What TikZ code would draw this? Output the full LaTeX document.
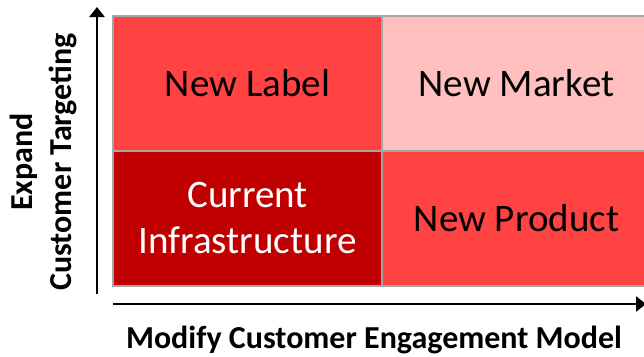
\documentclass[tikz,border=0pt]{standalone}
\usepackage{fontspec}
\setmainfont{Carlito}
\usepackage{tikz}
\usetikzlibrary{arrows.meta,positioning}
\definecolor{cRed}{HTML}{FF4343}
\definecolor{cPink}{HTML}{FFBFBF}
\definecolor{cDark}{HTML}{C00000}
\definecolor{cGrid}{HTML}{A6A6A6}
\tikzset{
  cell/.style={rectangle, draw=cGrid, line width=2pt, minimum width=269pt, minimum height=135pt, inner sep=0pt, align=center, font=\fontsize{39}{46}\selectfont},
  axis/.style={-{Triangle[length=10pt, width=15pt]}, line width=2.4pt, black},
  axlabel/.style={font=\fontsize{32}{39}\selectfont\bfseries, align=center, inner sep=0pt},
}

\begin{document}
\begin{tikzpicture}[x=1pt, y=-1pt]
  \useasboundingbox (0,0) rectangle (644,356);
  % the four quadrants
  \node[cell, fill=cRed]              (label)   at (247.5, 83.5) {New Label};
  \node[cell, fill=cPink]             (market)  at (516.5, 83.5) {New Market};
  \node[cell, fill=cDark, text=white] (infra)   at (247.5, 218)  {Current\\Infrastructure};
  \node[cell, fill=cRed]              (product) at (516.5, 218)  {New Product};
  % axes
  \coordinate (yfoot) at (97, 294);
  \coordinate (ytip)  at (97, 7);
  \coordinate (xfoot) at (113, 304);
  \coordinate (xtip)  at (646, 304);
  \draw[axis] (yfoot) -- (ytip);
  \draw[axis] (xfoot) -- (xtip);
  \node[axlabel, rotate=90] (ylab) at (43, 162) {Expand\\Customer Targeting};
  \node[axlabel, anchor=base] (xlab) at (374, 348) {Modify Customer Engagement Model};
\end{tikzpicture}
\end{document}
